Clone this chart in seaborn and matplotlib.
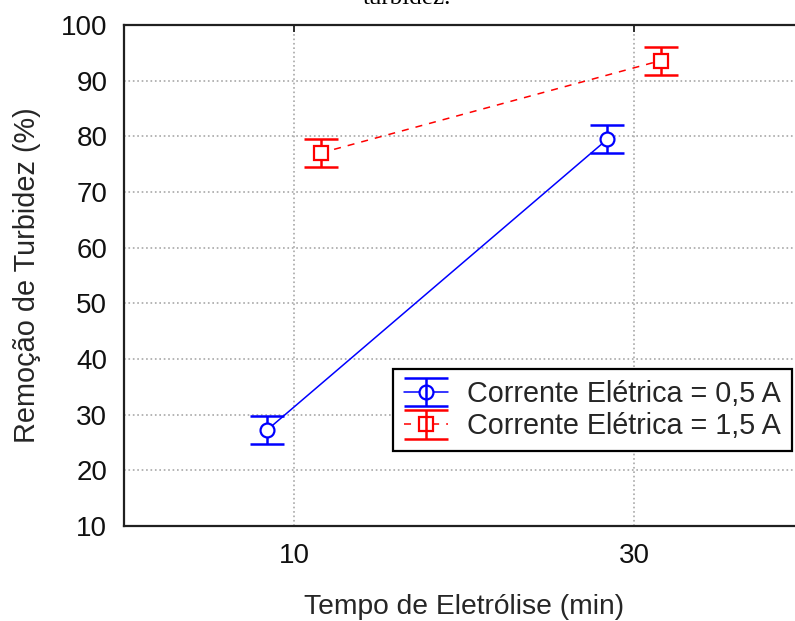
import matplotlib
matplotlib.use('Agg')
import matplotlib.pyplot as plt
from matplotlib.lines import Line2D
import seaborn as sns
import numpy as np
import pandas as pd

# dados
tempo = ['10', '30']
correntes = ['Corrente Elétrica = 0,5 A', 'Corrente Elétrica = 1,5 A']
remocao_05 = [27.3, 79.5]
remocao_15 = [77.0, 93.6]
erro_05 = [2.5, 2.5]
erro_15 = [2.5, 2.5]

cores = ['#0000ff', '#ff0000']
marcadores = ['o', 's']
estilos = ['-', '--']

df = pd.DataFrame({
    'Tempo': tempo * 2,
    'Remocao': remocao_05 + remocao_15,
    'Corrente': [correntes[0]] * 2 + [correntes[1]] * 2,
})

sns.set_theme(style='white')
plt.rcParams['font.family'] = ['Liberation Sans', 'DejaVu Sans']

fig = plt.figure(figsize=(7.95, 6.21), dpi=100)
ax = fig.add_axes([124 / 795, 95 / 621, 680 / 795, 501 / 621])

sns.pointplot(data=df, x='Tempo', y='Remocao', hue='Corrente',
              order=tempo, hue_order=correntes, palette=cores,
              markers=marcadores, linestyles=estilos, dodge=0.156,
              errorbar=None, legend=False, markersize=10,
              markerfacecolor='white', markeredgewidth=1.6,
              linewidth=1.1, ax=ax)

linhas = list(ax.lines[:2])
for ln in linhas:
    ln.set_zorder(4)
# tracejado mais espaçado, como no original
linhas[1].set_dashes([4.6, 4.6])

# barras de erro nas posições calculadas pelo seaborn
handles = []
for ln, err, cor in zip(linhas, [erro_05, erro_15], cores):
    eb = ax.errorbar(ln.get_xdata(), ln.get_ydata(), yerr=err, fmt='none',
                     ecolor=cor, elinewidth=1.8, capsize=12, capthick=1.8,
                     zorder=3)
    handles.append((ln, eb))

ax.set_xlim(-0.5, 1.5)
ax.set_ylim(10, 100)
ax.set_yticks(np.arange(10, 101, 10))
ax.grid(True, linestyle=':', color='#a8a8a8', linewidth=1.2)
ax.set_axisbelow(True)

for s in ax.spines.values():
    s.set_color('#202020')
    s.set_linewidth(1.6)

ax.tick_params(direction='in', length=5, width=1.3, top=True, right=False,
               labelsize=20, pad=12, colors='#202020', labelcolor='#111111')

ax.set_xlabel('Tempo de Eletrólise (min)', fontsize=20.3, labelpad=18)
ax.set_ylabel('Remoção de Turbidez (%)', fontsize=20.8, labelpad=14)

leg = ax.legend(handles=handles, labels=correntes, loc='lower right',
                bbox_to_anchor=(0.982, 0.149), borderaxespad=0,
                fontsize=20.7, frameon=True, fancybox=False,
                edgecolor='black', framealpha=1, handlelength=1.55,
                handletextpad=0.65, borderpad=0.38, labelspacing=0.15)
leg.get_frame().set_linewidth(1.6)
# tampas das barras de erro na legenda ocupam todo o símbolo
for art in leg.findobj(Line2D):
    if art.get_marker() == '_':
        art.set_markersize(31)

# resto da legenda da figura, cortado no topo
fig.text(407 / 795, 1 - 4 / 621, 'turbidez.', family='Liberation Serif',
         fontsize=18, ha='center', va='baseline', color='black')

fig.savefig('out.png', dpi=100)
